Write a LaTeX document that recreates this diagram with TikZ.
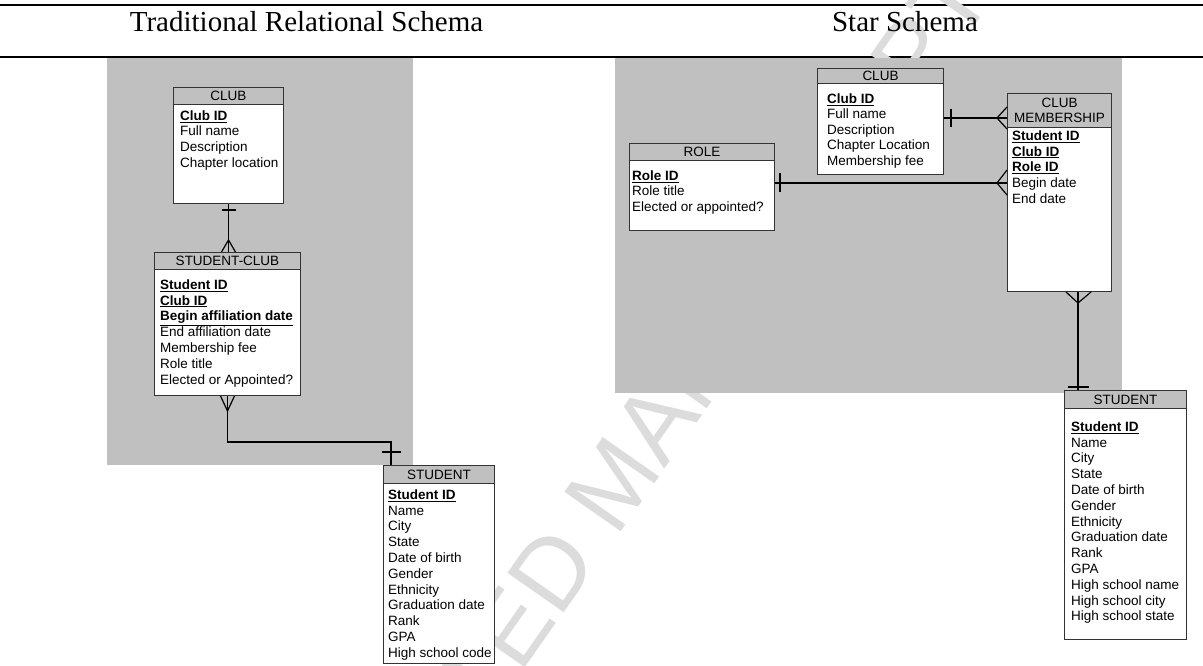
\documentclass[tikz,border=0pt]{standalone}
\usepackage{fontspec}
\setmainfont{Liberation Sans}
\newfontfamily\titlefont{Liberation Serif}
\usetikzlibrary{calc}

\definecolor{bggray}{HTML}{C0C0C0}
\definecolor{wmgray}{HTML}{DCDCDC}
\definecolor{boxline}{HTML}{333333}

\tikzset{
  hdr/.style={draw=boxline, line width=1pt, fill=bggray, anchor=north west, inner sep=0pt,
    font=\fontsize{13.5}{15}\selectfont, align=center},
  bodybox/.style={draw=boxline, line width=1pt, fill=white, anchor=north west, inner sep=0pt},
  fields/.style={anchor=north west, inner sep=0pt, align=left, font=\fontsize{13.5}{15.8}\selectfont},
  conn/.style={line width=1.6pt, black},
  foot/.style={line width=1.2pt, black},
  panel/.style={fill=bggray, draw=none, anchor=north west, inner sep=0pt},
  rulebar/.style={line width=2pt, black},
  titletext/.style={font=\titlefont\fontsize{29}{34}\selectfont, anchor=base, inner sep=0pt},
  wm/.style={rotate=55, anchor=base west, inner sep=0pt, text=wmgray, font=\fontsize{100}{120}\selectfont},
}

\newcommand{\keyf}[1]{\textbf{\underline{#1}}}

\begin{document}
\begin{tikzpicture}[x=1pt,y=-1pt]
\useasboundingbox (0,0) rectangle (1203,666);

% rules
\draw[rulebar] (0,5) -- (1203,5);
\draw[rulebar] (0,57) -- (1203,57);

% watermark
\node[wm] (wm) at (288,1007) {ACCEPTED MANUSCRIPT};

% titles
\node[titletext] (t1) at (306.5,32) {Traditional Relational Schema};
\node[titletext] (t2) at (905,32) {Star Schema};

% panels
\node[panel, minimum width=306, minimum height=407] (pL) at (107,58) {};
\node[panel, minimum width=507, minimum height=335] (pR) at (615,58) {};

% ---------- left: CLUB
\node[hdr, minimum width=110, minimum height=17] (clubLH) at (173,87) {CLUB};
\node[bodybox, minimum width=110, minimum height=99] (clubL) at (173,104) {};
\node[fields] (clubLF) at (180,120-11.06) {\strut\keyf{Club ID}\\Full name\\Description\\Chapter location};

% ---------- left: STUDENT-CLUB
\node[hdr, minimum width=146, minimum height=17] (scH) at (154,252) {STUDENT-CLUB};
\node[bodybox, minimum width=146, minimum height=126] (sc) at (154,269) {};
\node[fields] (scF) at (160,289-11.06) {\strut\keyf{Student ID}\\\keyf{Club ID}\\\keyf{Begin affiliation date}\\End affiliation date\\Membership fee\\Role title\\Elected or Appointed?};

% ---------- left: STUDENT
\node[hdr, minimum width=111, minimum height=18] (stuLH) at (383,465) {STUDENT};
\node[bodybox, minimum width=111, minimum height=180] (stuL) at (383,483) {};
\node[fields] (stuLF) at (388,499-11.06) {\strut\keyf{Student ID}\\Name\\City\\State\\Date of birth\\Gender\\Ethnicity\\Graduation date\\Rank\\GPA\\High school code};

% ---------- right: CLUB
\node[hdr, minimum width=126, minimum height=15] (clubRH) at (817,68) {CLUB};
\node[bodybox, minimum width=126, minimum height=91] (clubR) at (817,83) {};
\node[fields, font=\fontsize{13.5}{15.5}\selectfont] (clubRF) at (827,103-10.85) {\strut\keyf{Club ID}\\Full name\\Description\\Chapter Location\\Membership fee};

% ---------- right: ROLE
\node[hdr, minimum width=145, minimum height=17] (roleH) at (629,143) {ROLE};
\node[bodybox, minimum width=145, minimum height=70] (role) at (629,160) {};
\node[fields] (roleF) at (632,180-11.06) {\strut\keyf{Role ID}\\Role title\\Elected or appointed?};

% ---------- right: CLUB MEMBERSHIP
\node[hdr, minimum width=104, minimum height=34] (cmH) at (1007,93) {CLUB\\MEMBERSHIP};
\node[bodybox, minimum width=104, minimum height=164] (cm) at (1007,127) {};
\node[fields] (cmF) at (1012,140-11.06) {\strut\keyf{Student ID}\\\keyf{Club ID}\\\keyf{Role ID}\\Begin date\\End date};

% ---------- right: STUDENT
\node[hdr, minimum width=122, minimum height=18] (stuRH) at (1064,390) {STUDENT};
\node[bodybox, minimum width=122, minimum height=231] (stuR) at (1064,408) {};
\node[fields] (stuRF) at (1071,431-11.06) {\strut\keyf{Student ID}\\Name\\City\\State\\Date of birth\\Gender\\Ethnicity\\Graduation date\\Rank\\GPA\\High school name\\High school city\\High school state};

% ---------- connectors (left)
\coordinate (a1) at (clubL.south |- scH.north);
\draw[conn] (clubL.south) -- (a1);
\draw[conn] ($(clubL.south)+(-7,6)$) -- ($(clubL.south)+(7,6)$);
\draw[foot] ($(a1)+(-7,0)$) -- ($(a1)+(0,-12)$) -- ($(a1)+(7,0)$);

\coordinate (a2) at ($(stuLH.north west)+(8,0)$);
\draw[conn] (sc.south) |- ($(a2)+(0,-23)$) -- (a2);
\draw[foot] ($(sc.south)+(-7,0)$) -- ($(sc.south)+(0,15)$) -- ($(sc.south)+(7,0)$);
\draw[conn] ($(a2)+(-9,-13)$) -- ($(a2)+(10,-13)$);

% ---------- connectors (right)
\coordinate (b1) at ($(clubR.north east)+(0,35)$);
\draw[conn] (b1) -- (b1 -| cmH.west);
\draw[conn] ($(b1)+(7,-9)$) -- ($(b1)+(7,9)$);
\draw[foot] ($(b1 -| cmH.west)+(0,-11)$) -- ($(b1 -| cmH.west)+(-10,0)$) -- ($(b1 -| cmH.west)+(0,11)$);

\coordinate (b2) at ($(role.north east)+(0,23)$);
\draw[conn] (b2) -- (b2 -| cm.west);
\draw[conn] ($(b2)+(5,-10)$) -- ($(b2)+(5,9)$);
\draw[foot] ($(b2 -| cm.west)+(0,-13)$) -- ($(b2 -| cm.west)+(-10,0)$) -- ($(b2 -| cm.west)+(0,12)$);

\coordinate (b3) at ($(stuRH.north west)+(14,0)$);
\draw[conn] (b3 |- cm.south) -- (b3);
\draw[foot] ($(b3 |- cm.south)+(-12,0)$) -- ($(b3 |- cm.south)+(0,11)$) -- ($(b3 |- cm.south)+(13,0)$);
\draw[conn] ($(b3)+(-10,-3)$) -- ($(b3)+(11,-3)$);
\end{tikzpicture}
\end{document}
